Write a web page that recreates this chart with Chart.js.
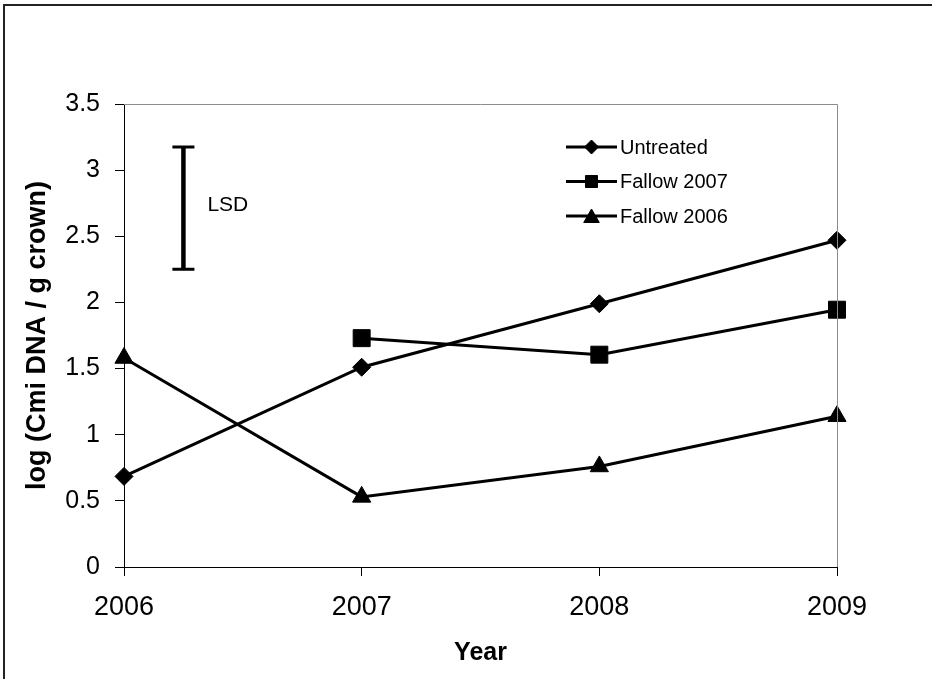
<!DOCTYPE html>
<html>
<head>
<meta charset="utf-8">
<script src="https://cdn.jsdelivr.net/npm/chart.js@4.4.1/dist/chart.umd.min.js"></script>
<style>
  html, body { margin: 0; padding: 0; background: #fff; }
  canvas { display: block; }
</style>
</head>
<body>
<canvas id="cmiChart" width="932" height="679"></canvas>
<script>
const years = ["2006", "2007", "2008", "2009"];
const untreated = [0.685, 1.51, 1.99, 2.47];
const fallow2007 = [null, 1.73, 1.605, 1.945];
const fallow2006 = [1.58, 0.53, 0.76, 1.14];
const yTicks = [0, 0.5, 1, 1.5, 2, 2.5, 3, 3.5];
const lsdRange = [2.25, 3.175];
const lsdAt = 0.25; // category position of the LSD bar

const font = 'Liberation Sans, Arial, sans-serif';

// frame, grey plot edges, LSD bar and legend
const extras = {
    id: 'extras',
    afterDraw(chart) {
        const ctx = chart.ctx, area = chart.chartArea;
        const x = chart.scales.x, y = chart.scales.y;
        ctx.save();

        ctx.strokeStyle = '#222'; ctx.lineWidth = 2;
        ctx.beginPath(); ctx.moveTo(4, 679); ctx.lineTo(4, 5); ctx.lineTo(932, 5); ctx.stroke();

        ctx.strokeStyle = '#8c8c8c'; ctx.lineWidth = 1;
        ctx.beginPath();
        ctx.moveTo(area.left, area.top + 0.5); ctx.lineTo(area.right + 0.5, area.top + 0.5); ctx.lineTo(area.right + 0.5, area.bottom);
        ctx.stroke();

        const lx = x.getPixelForValue(lsdAt);
        const lTop = y.getPixelForValue(lsdRange[1]), lBot = y.getPixelForValue(lsdRange[0]);
        ctx.strokeStyle = '#000';
        ctx.lineWidth = 4.5;
        ctx.beginPath(); ctx.moveTo(lx, lTop); ctx.lineTo(lx, lBot); ctx.stroke();
        ctx.lineWidth = 3;
        ctx.beginPath();
        ctx.moveTo(lx - 11, lTop); ctx.lineTo(lx + 11, lTop);
        ctx.moveTo(lx - 11, lBot); ctx.lineTo(lx + 11, lBot);
        ctx.stroke();
        ctx.fillStyle = '#000';
        ctx.font = '21px ' + font;
        ctx.textBaseline = 'middle';
        ctx.fillText('LSD', lx + 24, (lTop + lBot) / 2 - 3);

        const sizes = { rectRot: 7, rect: 8.5, triangle: 9 };
        chart.data.datasets.forEach((ds, i) => {
            const rowY = 147 + i * 34.5;
            ctx.strokeStyle = '#000'; ctx.lineWidth = 3;
            ctx.beginPath(); ctx.moveTo(566, rowY); ctx.lineTo(617, rowY); ctx.stroke();
            ctx.lineWidth = 1; ctx.fillStyle = '#000';
            Chart.helpers.drawPoint(ctx, { pointStyle: ds.pointStyle, radius: sizes[ds.pointStyle], borderWidth: 1 }, 591.5, rowY + (ds.pointStyle === 'triangle' ? 2 : 0));
            ctx.font = '20px ' + font;
            ctx.textBaseline = 'middle';
            ctx.fillText(ds.label, 620, rowY + 1);
        });
        ctx.restore();
    }
};

function series(label, data, style, r) {
    return {
        label, data, pointStyle: style, pointRadius: r, pointHoverRadius: r,
        borderColor: '#000', backgroundColor: '#000', pointBackgroundColor: '#000', pointBorderColor: '#000',
        pointBorderWidth: 1, borderWidth: 3, tension: 0, fill: false
    };
}

new Chart(document.getElementById('cmiChart'), {
    type: 'line',
    data: {
        labels: years,
        datasets: [
            series('Untreated', untreated, 'rectRot', 9),
            series('Fallow 2007', fallow2007, 'rect', 12),
            series('Fallow 2006', fallow2006, 'triangle', 10.5)
        ]
    },
    options: {
        responsive: false, animation: false,
        layout: { padding: { top: 104, right: 95, left: 0, bottom: 0 } },
        plugins: { legend: { display: false }, tooltip: { enabled: false } },
        scales: {
            x: {
                type: 'category', offset: false,
                afterFit: s => { s.height = 112; },
                grid: { drawOnChartArea: false, drawTicks: true, tickLength: 9, color: '#000' },
                border: { display: true, color: '#000', width: 1 },
                ticks: { color: '#000', padding: 15, font: { family: font, size: 27 }, maxRotation: 0 },
                title: { display: true, text: 'Year', color: '#000', font: { family: font, size: 25, weight: 'bold' }, padding: { top: 0, bottom: 11 } }
            },
            y: {
                min: 0, max: 3.5,
                afterFit: s => { s.width = 124; },
                afterBuildTicks: s => { s.ticks = yTicks.map(v => ({ value: v })); },
                grid: { drawOnChartArea: false, drawTicks: true, tickLength: 9, color: '#000' },
                border: { display: true, color: '#000', width: 1 },
                ticks: { color: '#000', padding: 15, font: { family: font, size: 25 }, callback: v => String(v) },
                title: { display: true, text: 'log (Cmi DNA / g crown)', color: '#000', font: { family: font, size: 27, weight: 'bold' }, padding: { top: 21, bottom: 0 } }
            }
        }
    },
    plugins: [extras]
});
</script>
</body>
</html>
